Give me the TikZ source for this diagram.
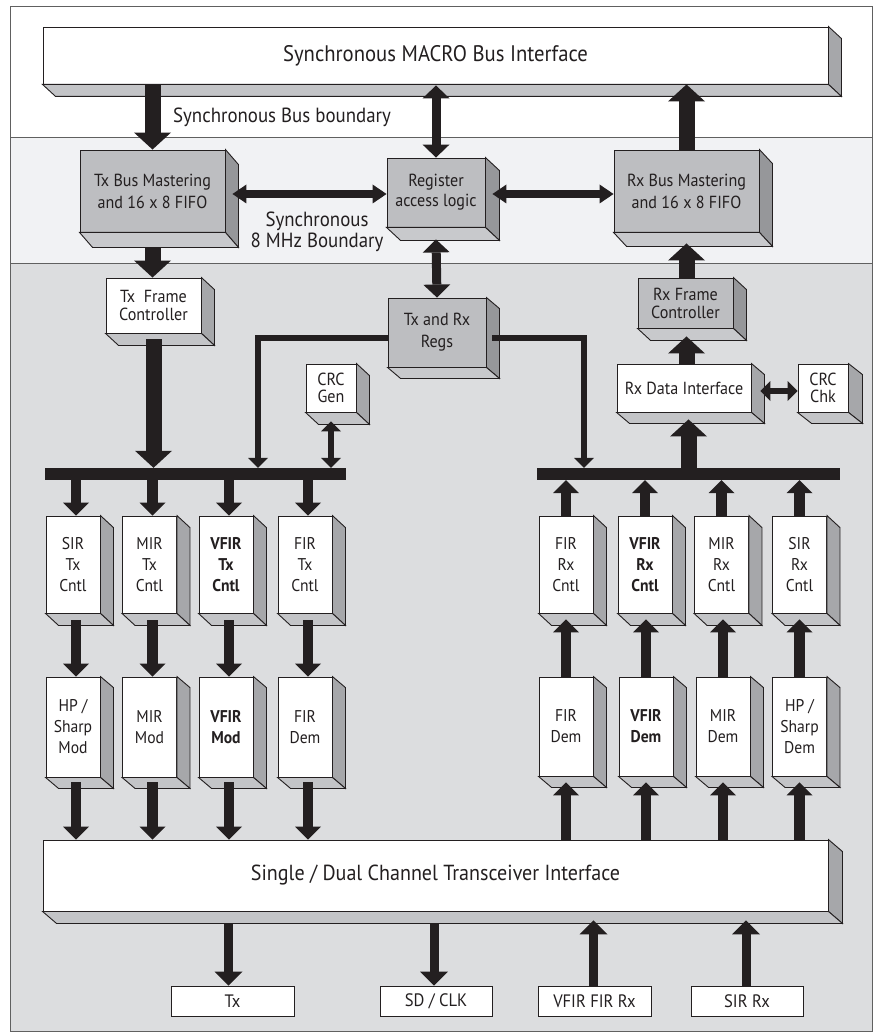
\documentclass[tikz,border=0pt]{standalone}
\usepackage{fontspec}
\setmainfont{PT Sans}[FakeStretch=0.92]
\usetikzlibrary{arrows.meta,calc}
\definecolor{ink}{HTML}{231F20}
\definecolor{bandL}{HTML}{F1F2F4}
\definecolor{bandD}{HTML}{DCDDDF}
\definecolor{grayfront}{HTML}{BDBEC1}
\definecolor{graySide}{HTML}{96979A}
\definecolor{grayBot}{HTML}{C8C9CC}
\definecolor{whiteSide}{HTML}{A6A7AA}
\definecolor{whiteBot}{HTML}{C3C4C7}
\definecolor{frameC}{HTML}{606060}
\newcommand\extr[5]{%
  \filldraw[edge, fill=#4] (#1.north east) -- ++(#2,#3) -- ($(#1.south east)+(#2,#3)$) -- (#1.south east) -- cycle;
  \filldraw[edge, fill=#5] (#1.south west) -- (#1.south east) -- ($(#1.south east)+(#2,#3)$) -- ($(#1.south west)+(#2,#3)$) -- cycle;
}
\tikzset{
  edge/.style={draw=ink, line width=0.9pt, line join=miter},
  wbox/.style={edge, fill=white, inner sep=0pt, align=center, text=ink, font=\fontsize{17}{21}\selectfont},
  gbox/.style={wbox, fill=grayfront},
  colbox/.style={wbox, minimum width=54pt},
  flatbox/.style={wbox, line width=0.8pt, minimum height=30pt, font=\fontsize{18}{20}\selectfont},
  busbar/.style={fill=ink, inner sep=0pt, minimum height=12pt},
  lbl/.style={text=ink, align=center, inner sep=0pt},
  big/.style={draw=ink, line width=16pt, >={Triangle[width=37pt,length=17pt,line width=0pt]}},
  med/.style={draw=ink, line width=9pt, >={Triangle[width=27pt,length=13pt,line width=0pt]}},
  hmed/.style={draw=ink, line width=8pt, >={Triangle[width=19pt,length=14pt,line width=0pt]}},
  col/.style={draw=ink, line width=10.5pt, >={Triangle[width=26pt,length=13pt,line width=0pt]}},
  bot/.style={draw=ink, line width=9pt, >={Triangle[width=28pt,length=14pt,line width=0pt]}},
  thin/.style={draw=ink, line width=6.5pt, >={Triangle[width=20pt,length=10pt,line width=0pt]}},
}
\begin{document}
\begin{tikzpicture}[x=1pt,y=-1pt]
% background and bands
\fill[white] (0,0) rectangle (874,1032);
\useasboundingbox (0,0) rectangle (874,1032);
\fill[white] (10,7) rectangle (872,137);
\fill[bandL] (10,137) rectangle (872,263);
\fill[bandD] (10,263) rectangle (872,1031);
\draw[frameC, line width=0.8pt] (10,137) -- (872,137) (10,263) -- (872,263);
\draw[frameC, line width=1pt] (10,7) rectangle (872,1031);

% top interface
\node[wbox, minimum width=785pt, minimum height=57pt, font=\fontsize{22.5}{24}\selectfont] (top) at (435.5,55.5) {Synchronous MACRO Bus Interface};
\extr{top}{13}{12}{whiteSide}{whiteBot}

% labels
\node[lbl, font=\fontsize{20.5}{21}\selectfont] (sbb) at (282,117) {Synchronous Bus boundary};
\node[lbl, font=\fontsize{20.5}{21}\selectfont] (s8) at (317,232) {Synchronous\\8 MHz Boundary};

% second row
\node[gbox, minimum width=145pt, minimum height=82pt, font=\fontsize{17.5}{22}\selectfont] (txbus) at (152.5,191) {Tx Bus Mastering\\and 16 x 8 FIFO};
\extr{txbus}{13}{15}{graySide}{grayBot}
\node[gbox, minimum width=98pt, minimum height=69pt, font=\fontsize{17.5}{20}\selectfont] (reg) at (436,192.5) {Register\\access logic};
\extr{reg}{14}{13}{graySide}{grayBot}
\node[gbox, minimum width=145pt, minimum height=82pt, font=\fontsize{17.5}{22}\selectfont] (rxbus) at (686.5,191) {Rx Bus Mastering\\and 16 x 8 FIFO};
\extr{rxbus}{13}{14}{graySide}{grayBot}

% third row
\node[wbox, minimum width=95pt, minimum height=55pt, font=\fontsize{17.5}{18}\selectfont] (txframe) at (153.5,305.5) {Tx~~Frame\\Controller};
\extr{txframe}{13}{12}{whiteSide}{whiteBot}
\node[gbox, minimum width=98pt, minimum height=69pt, font=\fontsize{17.5}{22}\selectfont] (txrxregs) at (437,332.5) {Tx and Rx\\Regs};
\extr{txrxregs}{13}{11}{graySide}{grayBot}
\node[gbox, minimum width=95pt, minimum height=50pt, font=\fontsize{17.5}{18}\selectfont] (rxframe) at (685.5,303) {Rx Frame\\Controller};
\extr{rxframe}{13}{12}{graySide}{grayBot}
\node[wbox, minimum width=50pt, minimum height=48pt, font=\fontsize{17.5}{17}\selectfont] (crcgen) at (331,388) {CRC\\Gen};
\extr{crcgen}{13}{12}{whiteSide}{whiteBot}
\node[wbox, minimum width=134pt, minimum height=48pt, font=\fontsize{17.5}{20}\selectfont] (rxdata) at (684,388) {Rx Data Interface};
\extr{rxdata}{13}{11}{whiteSide}{whiteBot}
\node[wbox, minimum width=50pt, minimum height=48pt, font=\fontsize{17.5}{17}\selectfont] (crcchk) at (823,388) {CRC\\Chk};
\extr{crcchk}{14}{11}{whiteSide}{whiteBot}

% buses
\node[busbar, minimum width=301pt] (lbus) at (195.5,474) {};
\node[busbar, minimum width=303pt] (rbus) at (688.5,474) {};

% Tx control column
\node[colbox, minimum height=97pt] (sirtx) at (73,564.5) {SIR\\Tx\\Cntl};
\node[colbox, minimum height=97pt] (mirtx) at (149.5,564.5) {MIR\\Tx\\Cntl};
\node[colbox, minimum height=97pt] (vfirtx) at (226,564.5) {\bfseries VFIR\\\bfseries Tx\\\bfseries Cntl};
\node[colbox, minimum height=97pt] (firtx) at (305,564.5) {FIR\\Tx\\Cntl};
\foreach \n in {sirtx,mirtx,vfirtx,firtx}{\extr{\n}{13}{12}{whiteSide}{whiteBot}}
\node[colbox, minimum height=100pt] (sirmod) at (73,727) {HP /\\Sharp\\Mod};
\node[colbox, minimum height=100pt] (mirmod) at (149.5,727) {MIR\\Mod};
\node[colbox, minimum height=100pt] (vfirmod) at (226,727) {\bfseries VFIR\\\bfseries Mod};
\node[colbox, minimum height=100pt] (firmod) at (305,727) {FIR\\Dem};
\foreach \n in {sirmod,mirmod,vfirmod,firmod}{\extr{\n}{13}{11}{whiteSide}{whiteBot}}

% Rx control column
\node[colbox, minimum height=97pt] (firrx) at (566,564.5) {FIR\\Rx\\Cntl};
\node[colbox, minimum height=97pt] (vfirrx) at (645,564.5) {\bfseries VFIR\\\bfseries Rx\\\bfseries Cntl};
\node[colbox, minimum height=97pt] (mirrx) at (721.5,564.5) {MIR\\Rx\\Cntl};
\node[colbox, minimum height=97pt] (sirrx) at (799.5,564.5) {SIR\\Rx\\Cntl};
\foreach \n in {firrx,vfirrx,mirrx,sirrx}{\extr{\n}{13}{12}{whiteSide}{whiteBot}}
\node[colbox, minimum height=99pt] (firdem) at (566,726.5) {FIR\\Dem};
\node[colbox, minimum height=99pt] (vfirdem) at (646,726.5) {\bfseries VFIR\\\bfseries Dem};
\node[colbox, minimum height=99pt] (mirdem) at (723,726.5) {MIR\\Dem};
\node[colbox, minimum height=99pt] (hpdem) at (799.5,726.5) {HP /\\Sharp\\Dem};
\foreach \n in {firdem,vfirdem,mirdem,hpdem}{\extr{\n}{13}{11}{whiteSide}{whiteBot}}

% transceiver
\node[wbox, minimum width=785pt, minimum height=71pt, font=\fontsize{21.8}{24}\selectfont] (trx) at (435.5,875.5) {Single / Dual Channel Transceiver Interface};
\extr{trx}{14}{12}{whiteSide}{whiteBot}

% bottom pins
\node[flatbox, minimum width=123pt] (txo) at (232.5,1001) {Tx};
\node[flatbox, minimum width=112pt] (sdo) at (436,1001) {SD / CLK};
\node[flatbox, minimum width=113pt] (vfo) at (594.5,1001) {VFIR FIR Rx};
\node[flatbox, minimum width=112pt] (siro) at (747,1001) {SIR Rx};

% ---- connectors ----
\draw[big,->] (top.south -| txbus.north) -- (txbus.north);
\draw[big,->] (rxbus.north) -- (rxbus.north |- top.south);
\draw[med,<->] ($(top.south -| reg.north)+(0,1)$) -- (reg.north);
\draw[hmed,<->] ($(txbus.east)+(7,3)$) -- ($(reg.west)+(0,1.5)$);
\draw[hmed,<->] ($(reg.east)+(7,1.5)$) -- ($(rxbus.west)+(0,3)$);
\draw[med,<->] ($(reg.south)+(0,12)$) -- (txrxregs.north);
\draw[big,->] ($(txbus.south)+(0,15)$) -- (txframe.north -| txbus.south);
\draw[big,->] ($(txframe.south)+(0,6)$) -- (txframe.south |- lbus.north);
\draw[thin,->] ($(txrxregs.west)+(0,5.5)$) -| ($(lbus.north)+(62.5,0)$);
\draw[thin,->] ($(txrxregs.east)+(6,5.5)$) -| ($(rbus.north)+(-104.5,0)$);
\draw[thin,<->] ($(crcgen.south)+(0,9)$) -- (crcgen.south |- lbus.north);
\draw[big,->] (rxframe.north -| rxbus.south) -- ($(rxbus.south)+(0,11)$);
\draw[big,->] (rxdata.north -| rxbus.south) -- ($(rxframe.south -| rxbus.south)+(0,8)$);
\draw[big,->] (rbus.north) -- ($(rxdata.south -| rbus.north)+(0,7)$);
\draw[thin,<->] ($(rxdata.east)+(9,3)$) -- ($(crcchk.west)+(0,3)$);

% Tx columns
\foreach \a/\b in {sirtx/sirmod,mirtx/mirmod,vfirtx/vfirmod,firtx/firmod}{
  \draw[col,->] ($(lbus.south -| \a.north)+(3,0)$) -- ($(\a.north)+(3,0)$);
  \draw[col,->] ($(\a.south)+(3,7)$) -- ($(\b.north)+(3,0)$);
  \draw[col,->] ($(\b.south)+(3,5)$) -- ($(trx.north -| \b.south)+(3,0)$);
}
% Rx columns
\foreach \a/\b in {firrx/firdem,vfirrx/vfirdem,mirrx/mirdem,sirrx/hpdem}{
  \draw[col,->] (\a.north) -- (\a.north |- rbus.south);
  \draw[col,->] (\b.north) -- ($(\b.north |- \a.south)+(0,6)$);
  \draw[col,->] (trx.north -| \b.south) -- ($(\b.south)+(0,6)$);
}

% bottom connectors
\draw[bot,->] ($(txo.north |- trx.south)+(-4,12)$) -- ($(txo.north)+(-4,0)$);
\draw[bot,->] ($(sdo.north |- trx.south)+(-2,12)$) -- ($(sdo.north)+(-2,0)$);
\draw[bot,->] ($(vfo.north)+(-1,0)$) -- ($(vfo.north |- trx.south)+(-1,9)$);
\draw[bot,->] ($(siro.north)+(-1,0)$) -- ($(siro.north |- trx.south)+(-1,9)$);
\end{tikzpicture}
\end{document}
